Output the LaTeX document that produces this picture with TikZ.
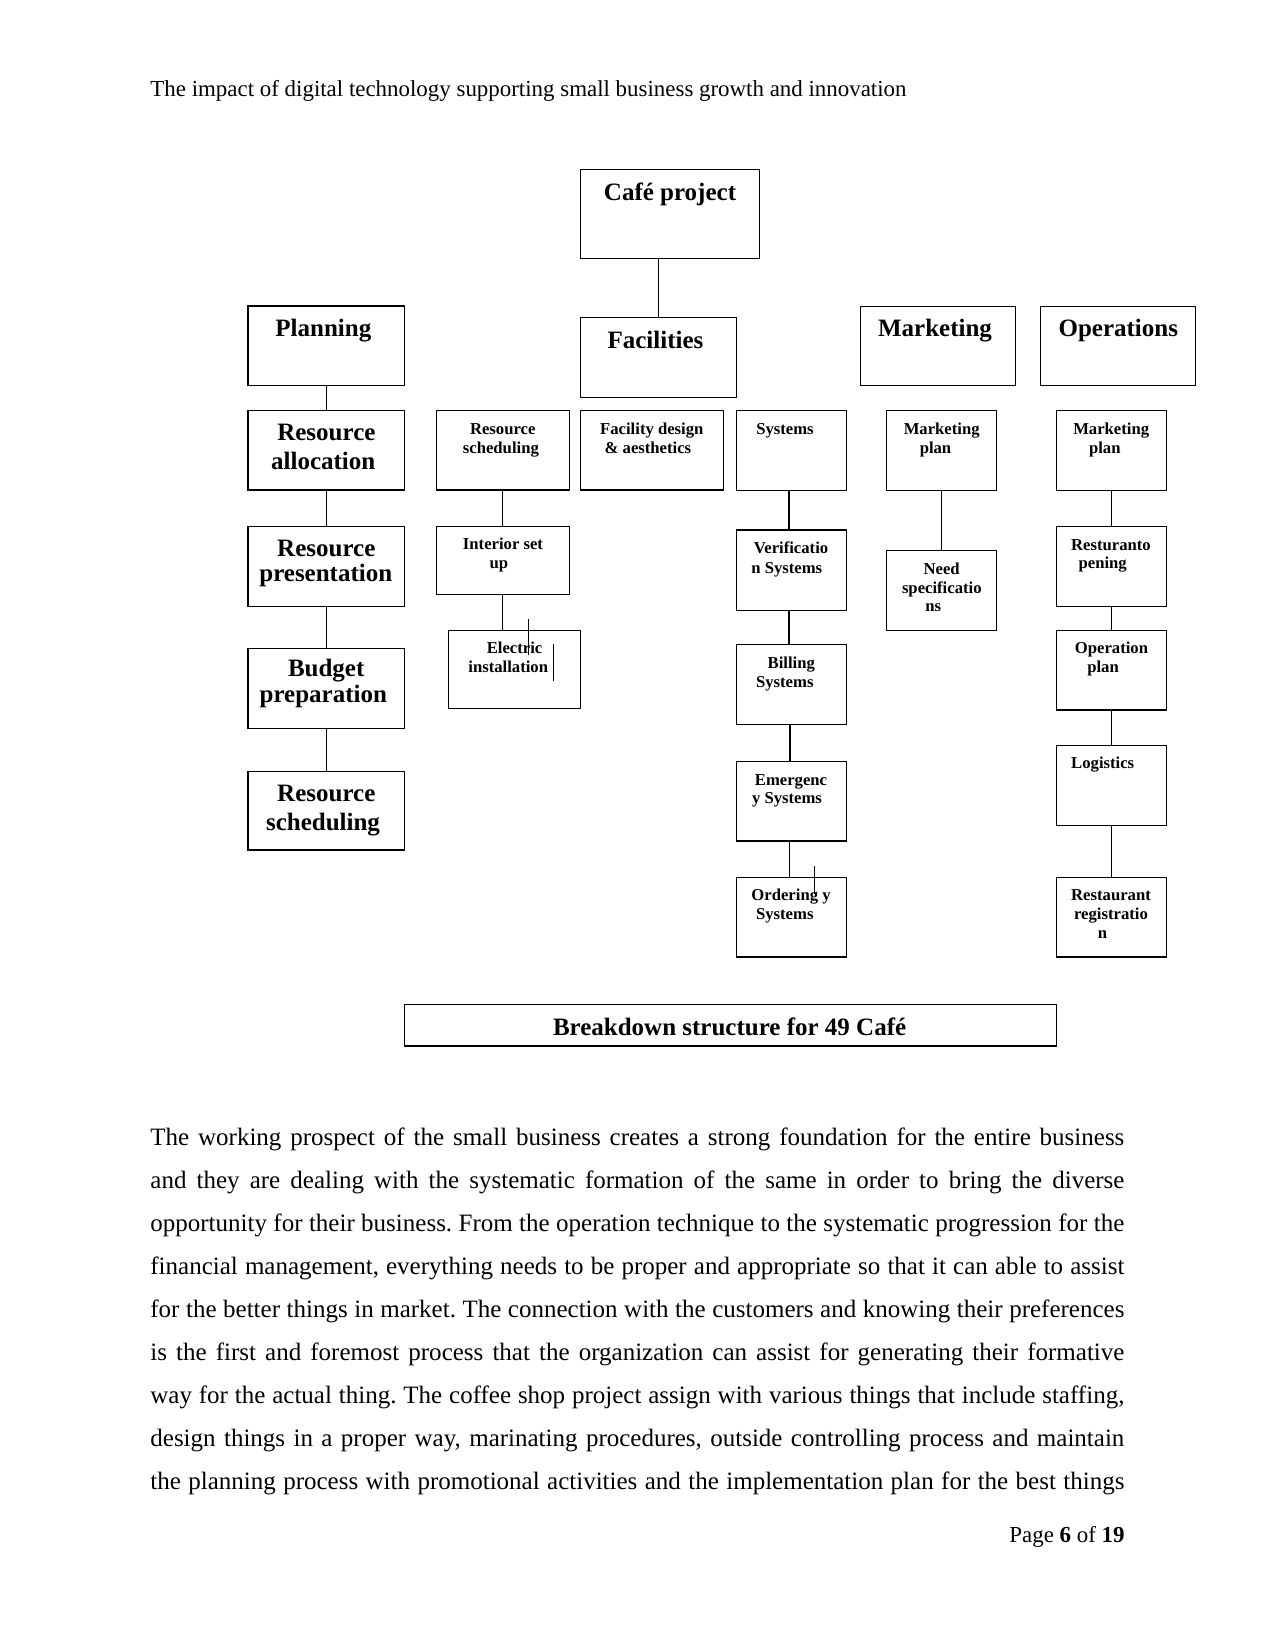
\documentclass[tikz,border=0pt]{standalone}
\usepackage{fontspec}
\setmainfont{Liberation Serif}
\frenchspacing
\usetikzlibrary{calc}
\tikzset{
  bx/.style={draw, line width=0.55pt, rectangle, inner sep=0pt, outer sep=0pt},
  big/.style={font=\bfseries\fontsize{12}{13.8}\selectfont, anchor=base, inner sep=0pt},
  sml/.style={font=\bfseries\fontsize{8}{9.2}\selectfont, anchor=base, inner sep=0pt},
  bodyline/.style={font=\fontsize{12}{14}\selectfont, anchor=base west, inner sep=0pt},
  con/.style={line width=0.55pt},
  stray/.style={line width=0.5pt},
}
\newcommand\bx[5]{\node[bx, minimum width={(#4-#2)*0.48pt}, minimum height={(#5-#3)*0.48pt}] (#1) at ({(#2+#4)/2},{(#3+#5)/2}) {};}
\newcommand\tl[5]{\node[#1] (#2) at (#3,#4) {#5};}
\newcommand\bl[3]{\node[bodyline] (#1) at (150,#2) {\makebox[467.5pt][s]{#3}};}
\begin{document}
\begin{tikzpicture}[x=0.48pt, y=-0.48pt]
\useasboundingbox (0,0) rectangle (1275,1650);

% header
\node[font=\fontsize{11}{13}\selectfont, anchor=base west, inner sep=0pt] (header) at (150,97) {The impact of digital technology supporting small business growth and innovation};

% boxes
\bx{cafe}{580.4}{169.3}{759.6}{258.3}
\bx{planning}{248}{306}{404.6}{385.3}
\bx{facilities}{580.4}{317.3}{736.6}{397.3}
\bx{marketing}{860.3}{306.3}{1015.3}{385.3}
\bx{operations}{1040.3}{306.3}{1195.3}{385.3}

\bx{resalloc}{248}{410.3}{404.6}{490}
\bx{resscheds}{436.4}{410.3}{569.3}{490}
\bx{facdesign}{580.4}{410.3}{723.6}{490}
\bx{systems}{736.4}{410.3}{846.7}{490.3}
\bx{mktplan}{886.3}{410.3}{996.7}{490.3}
\bx{opsmkt}{1056.3}{410.3}{1166.7}{490.3}

\bx{respres}{248}{526.3}{404.6}{606.3}
\bx{interior}{436.4}{526.3}{569.3}{594.3}
\bx{verif}{736.4}{530}{846.7}{610.3}
\bx{need}{886.3}{550.3}{996.7}{630.3}
\bx{resturanto}{1056.3}{526.3}{1166.7}{606.3}

\bx{budget}{248}{648.3}{404.6}{728.3}
\bx{electric}{448.3}{630.3}{580.3}{708.3}
\bx{billing}{736.4}{644.3}{846.7}{724.3}
\bx{opplan}{1056.3}{630.3}{1166.7}{710}

\bx{resschedb}{248}{771.3}{404.6}{850}
\bx{emergency}{736.4}{761.3}{846.7}{841}
\bx{logistics}{1056.3}{745.3}{1166.7}{825.3}

\bx{ordering}{736.4}{877.3}{846.7}{957}
\bx{restreg}{1056.3}{877.3}{1166.7}{957}

\bx{caption}{404.3}{1004.3}{1056.5}{1046}

% texts (big)
\tl{big}{cafe-t}{670}{200.7}{Café project}
\tl{big}{planning-t}{323.4}{336.7}{Planning}
\tl{big}{facilities-t}{655.5}{348.3}{Facilities}
\tl{big}{marketing-t}{935}{336.7}{Marketing}
\tl{big}{operations-t}{1118.3}{336.7}{Operations}
\tl{big}{resalloc-t1}{326.4}{440.7}{Resource}
\tl{big}{resalloc-t2}{323.2}{469.3}{allocation}
\tl{big}{respres-t1}{326.3}{556}{Resource}
\tl{big}{respres-t2}{325.8}{581.7}{presentation}
\tl{big}{budget-t1}{326.2}{676.7}{Budget}
\tl{big}{budget-t2}{323.3}{702.7}{preparation}
\tl{big}{resschedb-t1}{326.3}{801}{Resource}
\tl{big}{resschedb-t2}{323}{830}{scheduling}

% texts (small)
\tl{sml}{resscheds-t1}{502.7}{434}{Resource}
\tl{sml}{resscheds-t2}{500.9}{453.3}{scheduling}
\tl{sml}{facdesign-t1}{651.8}{434}{Facility design}
\tl{sml}{facdesign-t2}{647.9}{453.3}{\& aesthetics}
\tl{sml}{systems-t}{785}{434}{Systems}
\tl{sml}{mktplan-t1}{941.7}{434}{Marketing}
\tl{sml}{mktplan-t2}{935.5}{453.3}{plan}
\tl{sml}{opsmkt-t1}{1111.2}{434}{Marketing}
\tl{sml}{opsmkt-t2}{1104.8}{453.3}{plan}
\tl{sml}{interior-t1}{503}{549}{Interior set}
\tl{sml}{interior-t2}{498.8}{568.3}{up}
\tl{sml}{verif-t1}{791}{553.3}{Verificatio}
\tl{sml}{verif-t2}{786.8}{573.3}{n Systems}
\tl{sml}{need-t1}{941.7}{574}{Need}
\tl{sml}{need-t2}{941.8}{593.3}{specificatio}
\tl{sml}{need-t3}{933.3}{611.7}{ns}
\tl{sml}{resturanto-t1}{1111}{550}{Resturanto}
\tl{sml}{resturanto-t2}{1102.7}{568.3}{pening}
\tl{sml}{electric-t1}{514.5}{653.3}{Electric}
\tl{sml}{electric-t2}{508.2}{672.3}{installation}
\tl{sml}{billing-t1}{791.3}{668.3}{Billing}
\tl{sml}{billing-t2}{784.8}{687.7}{Systems}
\tl{sml}{opplan-t1}{1111.5}{653.3}{Operation}
\tl{sml}{opplan-t2}{1103}{672.3}{plan}
\tl{sml}{emergency-t1}{791}{785}{Emergenc}
\tl{sml}{emergency-t2}{787}{803.3}{y Systems}
\tl{sml}{logistics-t}{1102.7}{768.3}{Logistics}
\tl{sml}{ordering-t1}{791}{900.7}{Ordering y}
\tl{sml}{ordering-t2}{784.8}{919.3}{Systems}
\tl{sml}{restreg-t1}{1111}{900.7}{Restaurant}
\tl{sml}{restreg-t2}{1111}{919.3}{registratio}
\tl{sml}{restreg-t3}{1102.5}{938.3}{n}

\tl{big}{caption-t}{729.6}{1035}{Breakdown structure for 49 Café}

% connectors
\draw[con] (cafe.south -| facilities.north) -- (facilities.north);
\draw[con] (planning.south) -- (resalloc.north);
\draw[con] (resalloc.south) -- (respres.north);
\draw[con] (respres.south) -- (budget.north);
\draw[con] (budget.south) -- (resschedb.north);
\draw[con] (resscheds.south) -- (interior.north);
\draw[con] (interior.south) -- (interior.south |- electric.north);
\draw[con] ($(systems.south)+(-2.5,0)$) -- ($(verif.north)+(-2.5,0)$);
\draw[con] ($(verif.south)+(-2.5,0)$) -- ($(billing.north)+(-2.5,0)$);
\draw[con] ($(billing.south)+(-1.5,0)$) -- ($(emergency.north)+(-1.5,0)$);
\draw[con] ($(emergency.south)+(-2.2,0)$) -- ($(ordering.north)+(-2.2,0)$);
\draw[con] (mktplan.south) -- (need.north);
\draw[con] (opsmkt.south) -- (resturanto.north);
\draw[con] (resturanto.south) -- (opplan.north);
\draw[con] (opplan.south) -- (logistics.north);
\draw[con] (logistics.south) -- (restreg.north);

% stray marks
\coordinate (s1a) at (528.3,619.3); \coordinate (s1b) at (528.3,655);
\coordinate (s2a) at (553.3,644); \coordinate (s2b) at (553.3,680.7);
\coordinate (s3a) at (814.3,866); \coordinate (s3b) at (814.3,894);
\draw[stray] (s1a) -- (s1b);
\draw[stray] (s2a) -- (s2b);
\draw[stray] (s3a) -- (s3b);

% body text
\bl{p1}{1145}{The working prospect of the small business creates a strong foundation for the entire business}
\bl{p2}{1188.1}{and they are dealing with the systematic formation of the same in order to bring the diverse}
\bl{p3}{1231.2}{opportunity for their business. From the operation technique to the systematic progression for the}
\bl{p4}{1274.3}{financial management, everything needs to be proper and appropriate so that it can able to assist}
\bl{p5}{1317.4}{for the better things in market. The connection with the customers and knowing their preferences}
\bl{p6}{1360.5}{is the first and foremost process that the organization can assist for generating their formative}
\bl{p7}{1403.6}{way for the actual thing. The coffee shop project assign with various things that include staffing,}
\bl{p8}{1446.7}{design things in a proper way, marinating procedures, outside controlling process and maintain}
\bl{p9}{1489.8}{the planning process with promotional activities and the implementation plan for the best things}

% footer
\node[font=\fontsize{11}{13}\selectfont, anchor=base east, inner sep=0pt] (footer) at (1125,1542) {Page \textbf{6} of \textbf{19}};
\end{tikzpicture}
\end{document}
